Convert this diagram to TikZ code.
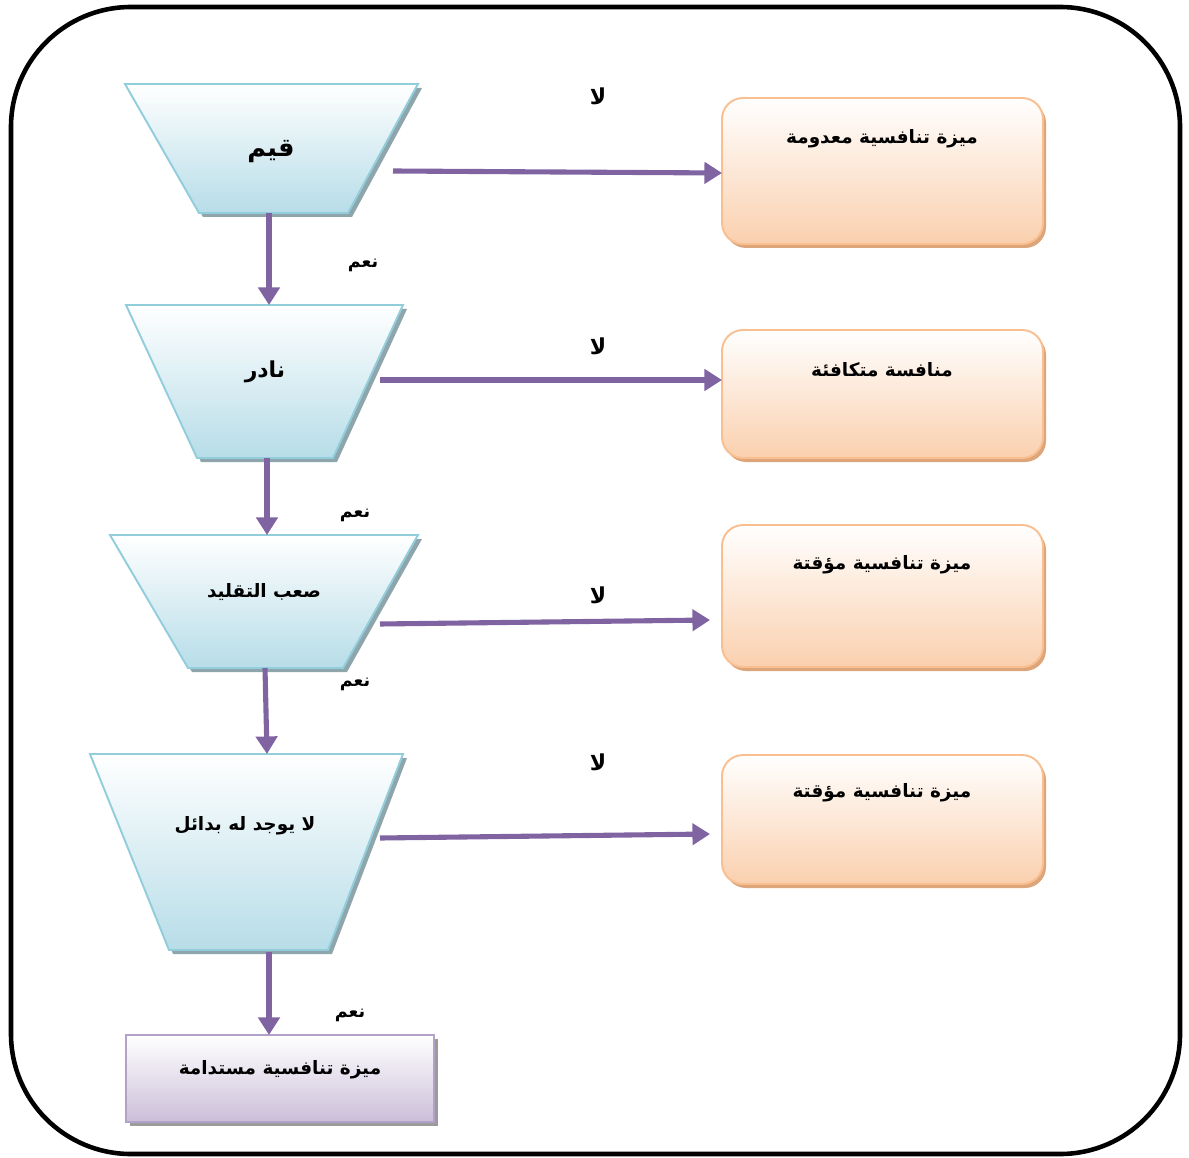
\documentclass[tikz,border=0pt]{standalone}
\usepackage{fontspec}
\newfontfamily\arabicfont[Script=Arabic]{DejaVu Sans}
\TeXXeTstate=1
\usetikzlibrary{arrows.meta}

\definecolor{flowpurple}{HTML}{8064A2}
\definecolor{trapline}{HTML}{92CDDC}
\definecolor{trapfill}{HTML}{B7DDE8}
\definecolor{trapshadow}{HTML}{8EA5AC}
\definecolor{orline}{HTML}{F9BF90}
\definecolor{orfill}{HTML}{FAD0AE}
\definecolor{orshadow}{HTML}{DDA57A}
\definecolor{puline}{HTML}{B3A2C7}
\definecolor{pufill}{HTML}{CBBFD9}
\definecolor{pushadow}{HTML}{9B9B9B}

\tikzset{
  trapbox/.style={draw=trapline, line width=1.1pt, top color=white, bottom color=trapfill},
  trapshade/.style={fill=trapshadow},
  outbox/.style={draw=orline, line width=1.1pt, rounded corners=0.42cm, top color=white, bottom color=orfill},
  outshade/.style={fill=orshadow, rounded corners=0.42cm},
  endbox/.style={draw=puline, line width=1.1pt, top color=white, bottom color=pufill},
  endshade/.style={fill=pushadow},
  flow/.style={draw=flowpurple, line width=2.9pt, -{Triangle[length=10pt,width=12pt]}},
  lbl/.style={font=\arabicfont\bfseries\fontsize{10.5}{12}\selectfont, inner sep=0pt},
  biglbl/.style={font=\arabicfont\bfseries\fontsize{14.5}{16}\selectfont, inner sep=0pt},
  anslbl/.style={font=\arabicfont\bfseries\fontsize{10}{12}\selectfont, inner sep=0pt},
  nolbl/.style={font=\arabicfont\bfseries\fontsize{12.5}{14}\selectfont, inner sep=0pt},
}

\begin{document}
\begin{tikzpicture}[x=0.02cm, y=-0.02cm]
  \useasboundingbox (0,0) rectangle (1189,1158);

  % outer frame
  \draw[line width=2.6pt, rounded corners=2.4cm] (11,7) rectangle (1180,1154);

  % decision trapezoids
  \fill[trapshade, shift={(4,4)}] (125,84) -- (418,84) -- (348,213) -- (199,213) -- cycle;
  \shadedraw[trapbox] (125,84) -- (418,84) -- (348,213) -- (199,213) -- cycle;
  \node[biglbl] (t1) at (271,152) {\beginR قيم\endR};
  \coordinate (t1s) at (269,213);
  \coordinate (t1e) at (393,171);

  \fill[trapshade, shift={(4,4)}] (126,305) -- (403,305) -- (333,458) -- (197,458) -- cycle;
  \shadedraw[trapbox] (126,305) -- (403,305) -- (333,458) -- (197,458) -- cycle;
  \node[biglbl, font=\arabicfont\bfseries\fontsize{12.5}{14}\selectfont] (t2) at (265,372) {\beginR نادر\endR};
  \coordinate (t2n) at (269,305);
  \coordinate (t2s) at (267,458);
  \coordinate (t2e) at (380,380);

  \fill[trapshade, shift={(4,4)}] (110,535) -- (418,535) -- (343,668) -- (188,668) -- cycle;
  \shadedraw[trapbox] (110,535) -- (418,535) -- (343,668) -- (188,668) -- cycle;
  \node[lbl] (t3) at (264,592) {\beginR صعب التقليد\endR};
  \coordinate (t3n) at (267,535);
  \coordinate (t3s) at (265,668);
  \coordinate (t3e) at (380,624);

  \fill[trapshade, shift={(4,4)}] (90,754) -- (403,754) -- (328,950) -- (169,950) -- cycle;
  \shadedraw[trapbox] (90,754) -- (403,754) -- (328,950) -- (169,950) -- cycle;
  \node[lbl] (t4) at (245,826) {\beginR لا يوجد له بدائل\endR};
  \coordinate (t4n) at (267,754);
  \coordinate (t4s) at (269,952);
  \coordinate (t4e) at (380,838);

  % outcome boxes
  \fill[outshade, shift={(3,4)}] (722,98) rectangle (1043,244);
  \shadedraw[outbox] (722,98) rectangle (1043,244);
  \node[lbl] (o1) at (882,139) {\beginR ميزة تنافسية معدومة\endR};
  \coordinate (o1w) at (722,173);

  \fill[outshade, shift={(3,4)}] (722,330) rectangle (1043,458);
  \shadedraw[outbox] (722,330) rectangle (1043,458);
  \node[lbl] (o2) at (882,370) {\beginR منافسة متكافئة\endR};
  \coordinate (o2w) at (722,380);

  \fill[outshade, shift={(3,4)}] (722,525) rectangle (1043,667);
  \shadedraw[outbox] (722,525) rectangle (1043,667);
  \node[lbl] (o3) at (882,565) {\beginR ميزة تنافسية مؤقتة\endR};
  \coordinate (o3w) at (710,620);

  \fill[outshade, shift={(3,4)}] (722,755) rectangle (1043,884);
  \shadedraw[outbox] (722,755) rectangle (1043,884);
  \node[lbl] (o4) at (882,793) {\beginR ميزة تنافسية مؤقتة\endR};
  \coordinate (o4w) at (710,834);

  % final result
  \fill[endshade, shift={(4,4)}] (126,1035) rectangle (434,1122);
  \shadedraw[endbox] (126,1035) rectangle (434,1122);
  \node[lbl] (fin) at (280,1070) {\beginR ميزة تنافسية مستدامة\endR};
  \coordinate (finn) at (269,1035);

  % yes branches
  \draw[flow] (t1s) -- (t2n);
  \draw[flow] (t2s) -- (t3n);
  \draw[flow] (t3s) -- (t4n);
  \draw[flow] (t4s) -- (finn);

  % no branches
  \draw[flow] (t1e) -- (o1w);
  \draw[flow] (t2e) -- (o2w);
  \draw[flow] (t3e) -- (o3w);
  \draw[flow] (t4e) -- (o4w);

  % answer labels
  \node[nolbl] (n1) at (598,96) {\beginR لا\endR};
  \node[nolbl] (n2) at (598,346) {\beginR لا\endR};
  \node[nolbl] (n3) at (598,595) {\beginR لا\endR};
  \node[nolbl] (n4) at (598,762) {\beginR لا\endR};
  \node[anslbl] (y1) at (363,265) {\beginR نعم\endR};
  \node[anslbl] (y2) at (355,515) {\beginR نعم\endR};
  \node[anslbl] (y3) at (355,684) {\beginR نعم\endR};
  \node[anslbl] (y4) at (350,1015) {\beginR نعم\endR};
\end{tikzpicture}
\end{document}
